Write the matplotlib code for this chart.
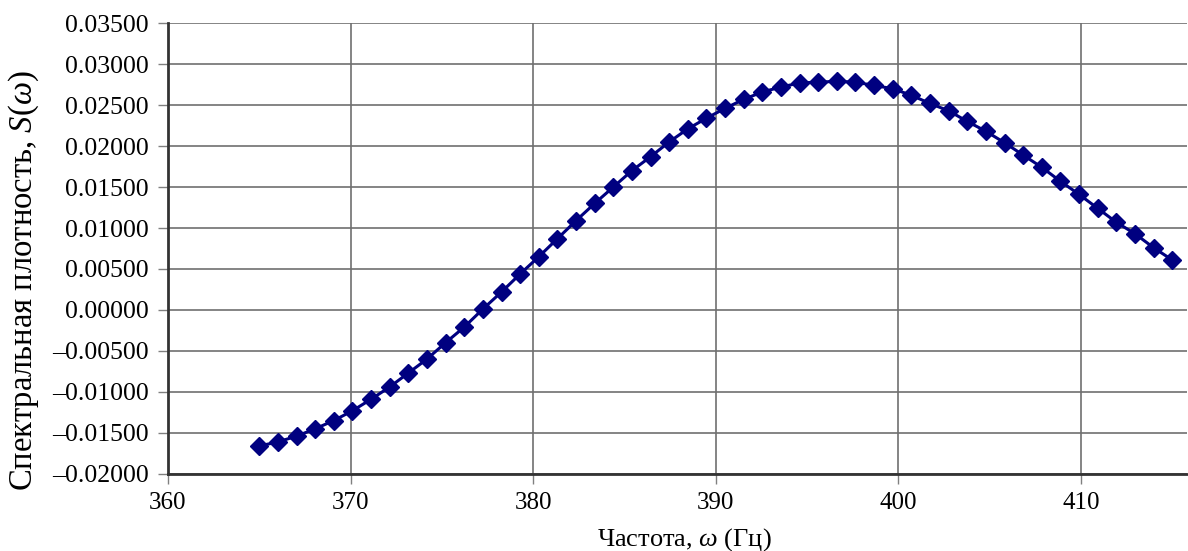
import matplotlib
matplotlib.use("Agg")
import matplotlib.pyplot as plt
from matplotlib.ticker import FuncFormatter

# frequency (Hz) and spectral density
freq = [365.00, 366.02, 367.04, 368.06, 369.08, 370.10, 371.12, 372.14, 373.16, 374.18,
        375.20, 376.22, 377.24, 378.27, 379.29, 380.31, 381.33, 382.35, 383.37, 384.39,
        385.41, 386.43, 387.45, 388.47, 389.49, 390.51, 391.53, 392.55, 393.57, 394.59,
        395.61, 396.63, 397.65, 398.67, 399.69, 400.71, 401.73, 402.76, 403.78, 404.80,
        405.82, 406.84, 407.86, 408.88, 409.90, 410.92, 411.94, 412.96, 413.98, 415.00]
density = [-0.0166, -0.0161, -0.0154, -0.0145, -0.0135, -0.0123, -0.0109, -0.0094, -0.0077, -0.0060,
           -0.0040, -0.0021, 0.0001, 0.0022, 0.0044, 0.0065, 0.0087, 0.0109, 0.0130, 0.0150,
           0.0170, 0.0187, 0.0205, 0.0221, 0.0234, 0.0246, 0.0257, 0.0266, 0.0272, 0.0277,
           0.0278, 0.0279, 0.0278, 0.0274, 0.0270, 0.0262, 0.0252, 0.0243, 0.0230, 0.0218,
           0.0204, 0.0189, 0.0174, 0.0157, 0.0141, 0.0124, 0.0107, 0.0093, 0.0076, 0.0061]

x_ticks = [360, 370, 380, 390, 400, 410]
y_ticks = [-0.02, -0.015, -0.01, -0.005, 0.0, 0.005, 0.01, 0.015, 0.02, 0.025, 0.03, 0.035]

plt.rcParams['font.family'] = ['Liberation Serif', 'DejaVu Serif']
plt.rcParams['mathtext.fontset'] = 'custom'
plt.rcParams['mathtext.rm'] = 'Liberation Serif'
plt.rcParams['mathtext.it'] = 'Liberation Serif:italic'

fig = plt.figure(figsize=(11.88, 5.51), dpi=100)
ax = fig.add_axes([0.1414, 0.140, 0.8576, 0.818])

ax.plot(freq, density, color='#000080', lw=2.2, marker='D', ms=9,
        mec='#000080', mfc='#000080', zorder=3)

ax.set_xlim(360, 415.8)
ax.set_ylim(-0.02, 0.035)
ax.set_xticks(x_ticks)
ax.set_yticks(y_ticks)
ax.yaxis.set_major_formatter(FuncFormatter(lambda v, p: f"{v:.5f}".replace('-', '\u2013')))

ax.grid(True, color='#707070', lw=1.2)
ax.set_axisbelow(True)
for s in ['top', 'right']:
    ax.spines[s].set_visible(False)
for s in ['left', 'bottom']:
    ax.spines[s].set_color('#333333')
    ax.spines[s].set_linewidth(2)

ax.tick_params(axis='both', length=7, width=1, color='#808080')
ax.tick_params(axis='y', labelsize=18.5, pad=7)
ax.tick_params(axis='x', labelsize=18, pad=6)

ax.set_xlabel('Частота, $\\omega$ (Гц)', fontsize=19)
ax.xaxis.set_label_coords(0.507, -0.115)
ax.set_ylabel('Спектральная плотность, $S$($\\omega$)', fontsize=23.5)
ax.yaxis.set_label_coords(-0.125, 0.428)

fig.savefig('out.png', dpi=100)
